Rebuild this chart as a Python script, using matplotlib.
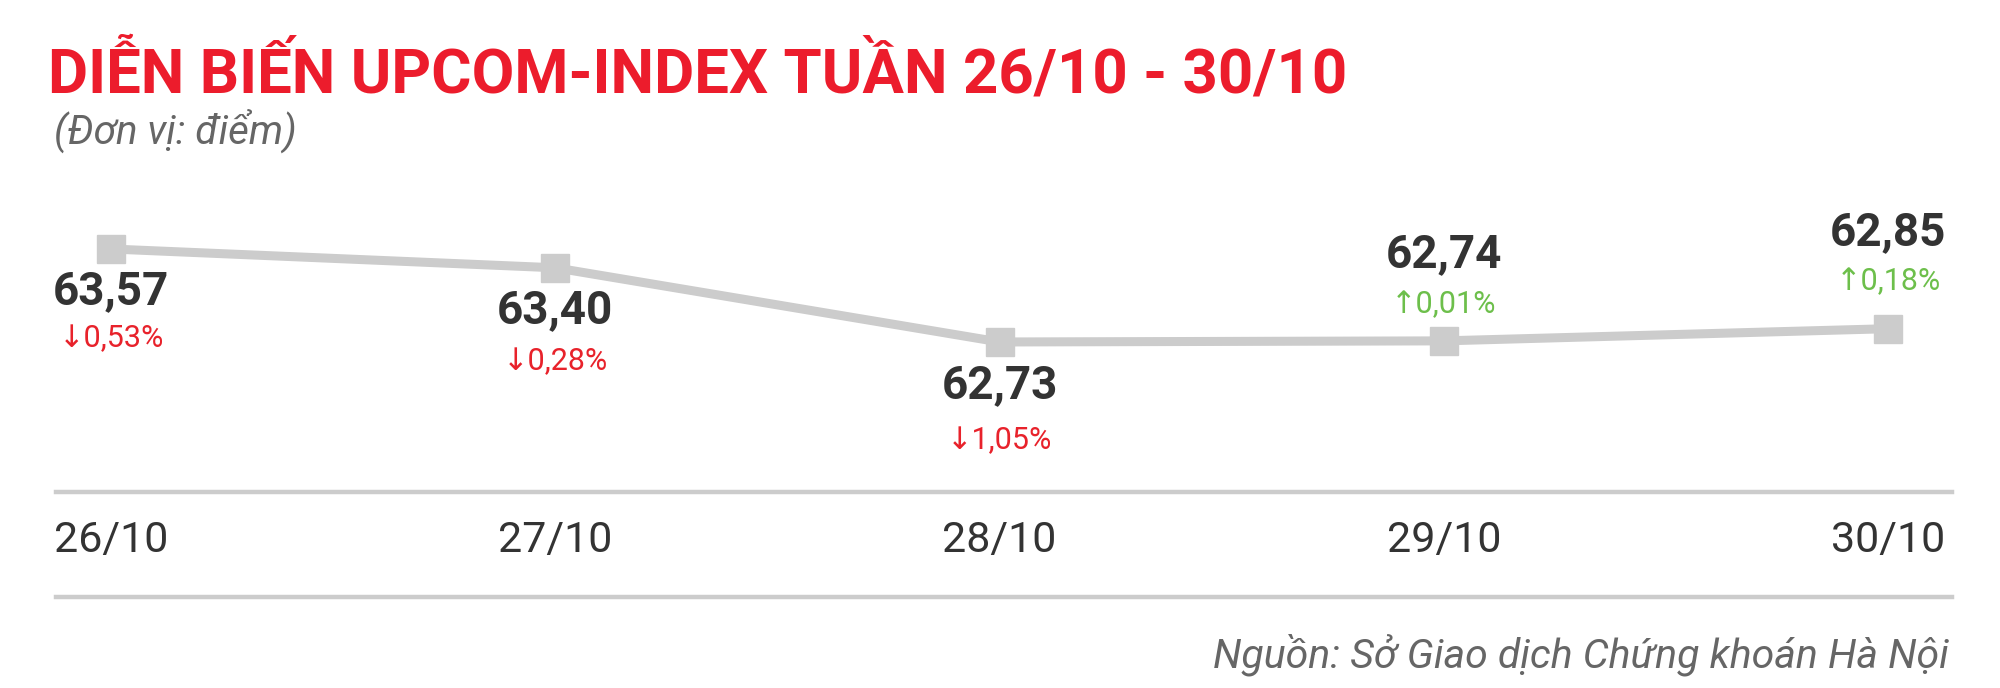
import matplotlib
matplotlib.use("Agg")
import matplotlib.pyplot as plt
from matplotlib.lines import Line2D

# data
days = ["26/10", "27/10", "28/10", "29/10", "30/10"]
values = [63.57, 63.40, 62.73, 62.74, 62.85]
value_labels = ["63,57", "63,40", "62,73", "62,74", "62,85"]
changes = ["0,53%", "0,28%", "1,05%", "0,01%", "0,18%"]
up = [False, False, False, True, True]

RED = "#ec1c2c"
PCT_RED = "#e8222b"
GREEN = "#6dbf4b"
GREY = "#cccccc"
DARK = "#333333"
plt.rcParams["font.family"] = ["Roboto", "DejaVu Sans"]

W, H = 2000, 688
fig = plt.figure(figsize=(W / 100, H / 100), dpi=100)

# axes placed so the plot area spans the grey baseline
ax = fig.add_axes([56 / W, (H - 492) / H, 1896 / W, 342 / H])
x = list(range(len(days)))
ax.plot(x, values, color=GREY, lw=6.5, marker="s", markersize=20,
        solid_joinstyle="miter", zorder=3)
ax.set_xlim(-0.124, 4.144)
ax.set_ylim(61.375, 64.464)

for s in ["top", "left", "right"]:
    ax.spines[s].set_visible(False)
ax.spines["bottom"].set_color(GREY)
ax.spines["bottom"].set_linewidth(3.2)
ax.set_yticks([])
ax.set_xticks(x)
ax.set_xticklabels(days, fontsize=31, color=DARK)
ax.tick_params(axis="x", length=0, pad=20)

# label offsets in pixels (value, pct), negative = below the marker
offsets = [(-42, -90), (-42, -94), (-43, -99), (87, 36), (97, 47)]
for i in x:
    vo, po = offsets[i]
    ax.annotate(value_labels[i], (i, values[i]), xytext=(0, vo),
                textcoords="offset pixels", ha="center", va="center",
                fontsize=33, fontweight="bold", color=DARK)
    arrow = "\u2191" if up[i] else "\u2193"
    ax.annotate(arrow + changes[i], (i, values[i]), xytext=(0, po),
                textcoords="offset pixels", ha="center", va="center",
                fontsize=22, color=GREEN if up[i] else PCT_RED)

# bottom rule
fig.add_artist(Line2D([56 / W, 1952 / W], [(H - 597) / H] * 2, color=GREY, lw=3.2))

fig.text(48 / W, 1 - 92 / H, "DIỄN BIẾN UPCOM-INDEX TUẦN 26/10 - 30/10",
         fontsize=44.5, fontweight="bold", color=RED, va="baseline")
fig.text(54 / W, 1 - 144 / H, "(Đơn vị: điểm)", fontsize=29, style="italic",
         color="#666666", va="baseline")
fig.text(1949 / W, 1 - 667 / H, "Nguồn: Sở Giao dịch Chứng khoán Hà Nội",
         fontsize=29.5, style="italic", color="#666666", va="baseline", ha="right")

fig.savefig("out.png", dpi=100)
